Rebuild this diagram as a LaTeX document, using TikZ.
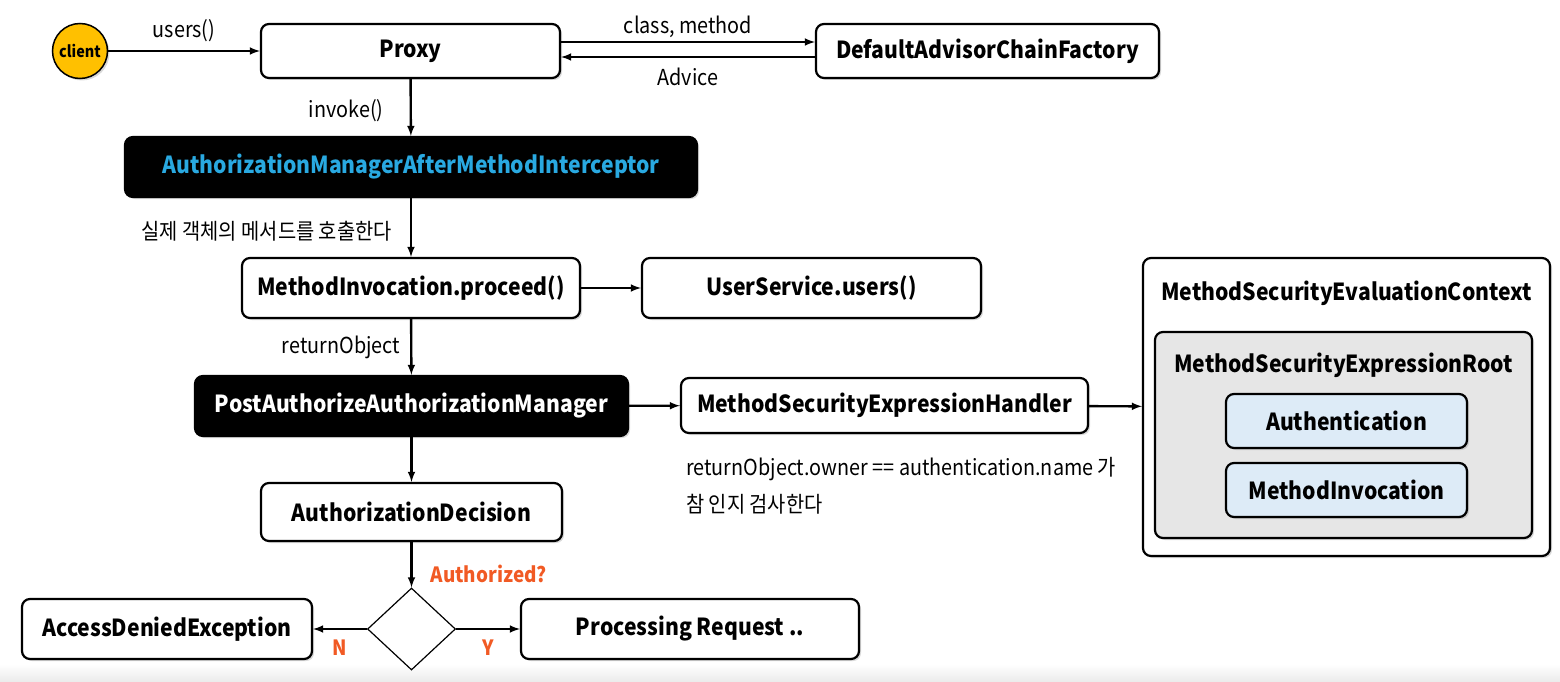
\documentclass[tikz,border=0pt]{standalone}
\usepackage{fontspec}
\setmainfont{Noto Sans CJK KR}[FakeStretch=0.9]
\usepackage{tikz}
\usetikzlibrary{arrows,positioning,shapes.geometric,shadows}
\tikzset{>=latex}
\definecolor{clientyellow}{HTML}{FFC000}
\definecolor{interceptblue}{HTML}{29A9E1}
\definecolor{alertorange}{HTML}{F15A24}
\definecolor{fieldblue}{HTML}{DDEBF7}
\definecolor{rootgray}{HTML}{E6E6E6}

\begin{document}
\begin{tikzpicture}[x=1pt,y=-1pt,
	classbox/.style={draw,line width=2.2pt,rounded corners=8pt,fill=white,inner sep=0pt,
		font=\fontsize{23.5}{27}\selectfont\bfseries,
		drop shadow={shadow xshift=2pt,shadow yshift=-2pt,opacity=0.3}},
	darkbox/.style={classbox,fill=black,text=white},
	fieldbox/.style={classbox,fill=fieldblue,minimum width=241pt,minimum height=54pt},
	boxtitle/.style={font=\fontsize{23.5}{27}\selectfont\bfseries,inner sep=0pt},
	flow/.style={->,line width=2.4pt},
	lbl/.style={font=\fontsize{22}{26}\selectfont,inner sep=2pt},
	alert/.style={font=\fontsize{21}{24}\selectfont\bfseries,text=alertorange,inner sep=2pt}]
	\useasboundingbox (0,0) rectangle (1560,682);
	\shade[top color=white,bottom color=black!8] (0,664) rectangle (1560,682);

	% call chain
	\node[circle,draw,line width=1.5pt,fill=clientyellow,minimum size=55pt,inner sep=0pt,
		font=\fontsize{16}{18}\selectfont\bfseries,
		drop shadow={shadow xshift=2pt,shadow yshift=-2pt,opacity=0.3}] (client) at (80,51) {client};
	\node[classbox,minimum width=299pt,minimum height=54pt] (proxy) at (410.5,51) {Proxy};
	\node[classbox,minimum width=343pt,minimum height=54pt] (chain) at (987.5,51) {DefaultAdvisorChainFactory};
	\node[darkbox,text=interceptblue,minimum width=572pt,minimum height=60pt] (interceptor) at (411,167) {AuthorizationManagerAfterMethodInterceptor};
	\node[classbox,minimum width=338pt,minimum height=60pt] (proceed) at (411,288) {MethodInvocation.proceed()};
	\node[classbox,minimum width=339pt,minimum height=60pt] (target) at (811.5,288) {UserService.users()};
	\node[darkbox,minimum width=433pt,minimum height=60pt] (manager) at (411.5,406) {PostAuthorizeAuthorizationManager};
	\node[classbox,minimum width=407pt,minimum height=55pt] (handler) at (884.5,405.5) {MethodSecurityExpressionHandler};
	\node[classbox,minimum width=301pt,minimum height=58pt] (decision) at (411.5,512) {AuthorizationDecision};
	\node[diamond,draw,line width=1.2pt,minimum width=88pt,minimum height=82pt,inner sep=0pt] (check) at (411.5,629) {};
	\node[classbox,minimum width=290pt,minimum height=60pt] (denied) at (167,629) {AccessDeniedException};
	\node[classbox,minimum width=338pt,minimum height=60pt] (request) at (690,629) {Processing Request ..};

	% evaluation context
	\node[classbox,minimum width=407pt,minimum height=298pt] (context) at (1346.5,407) {};
	\node[boxtitle,below=24pt of context.north] (contexttitle) {MethodSecurityEvaluationContext};
	\node[classbox,fill=rootgray,minimum width=377pt,minimum height=206pt] (root) at (1343.5,435) {};
	\node[boxtitle,below=22pt of root.north] (roottitle) {MethodSecurityExpressionRoot};
	\node[fieldbox] (auth) at (1346.5,421) {Authentication};
	\node[fieldbox] (invocation) at (1346.5,490) {MethodInvocation};

	\node[lbl,anchor=north west,align=left,font=\fontsize{22}{37}\selectfont] (note) at (684,455)
		{returnObject.owner == authentication.name 가\\참 인지 검사한다};

	% connectors
	\draw[flow] (client) -- node[lbl,above=6pt] {users()} (proxy);
	\draw[flow] ([yshift=9pt]proxy.east) -- node[lbl,above=1pt] {class, method} ([yshift=9pt]chain.west);
	\draw[flow] ([yshift=-6pt]chain.west) -- node[lbl,below=8pt] {Advice} ([yshift=-6pt]proxy.east);
	\draw[flow] (proxy) -- node[lbl,left=24pt,yshift=-3pt] {invoke()} (interceptor);
	\draw[flow] (interceptor) -- node[lbl,left=16pt,yshift=-4pt] {실제 객체의 메서드를 호출한다} (proceed);
	\draw[flow] (proceed) -- (target);
	\draw[flow] (proceed) -- node[lbl,left=8pt] {returnObject} (manager);
	\draw[flow] (manager) -- (handler);
	\draw[flow] (handler) -- (context);
	\draw[flow] (manager) -- (decision);
	\draw[flow] (decision) -- node[alert,pos=0.7,right=16pt] {Authorized?} (check);
	\draw[flow] (check) -- node[alert,below=8pt] {N} (denied);
	\draw[flow] (check) -- node[alert,below=8pt] {Y} (request);
\end{tikzpicture}
\end{document}
